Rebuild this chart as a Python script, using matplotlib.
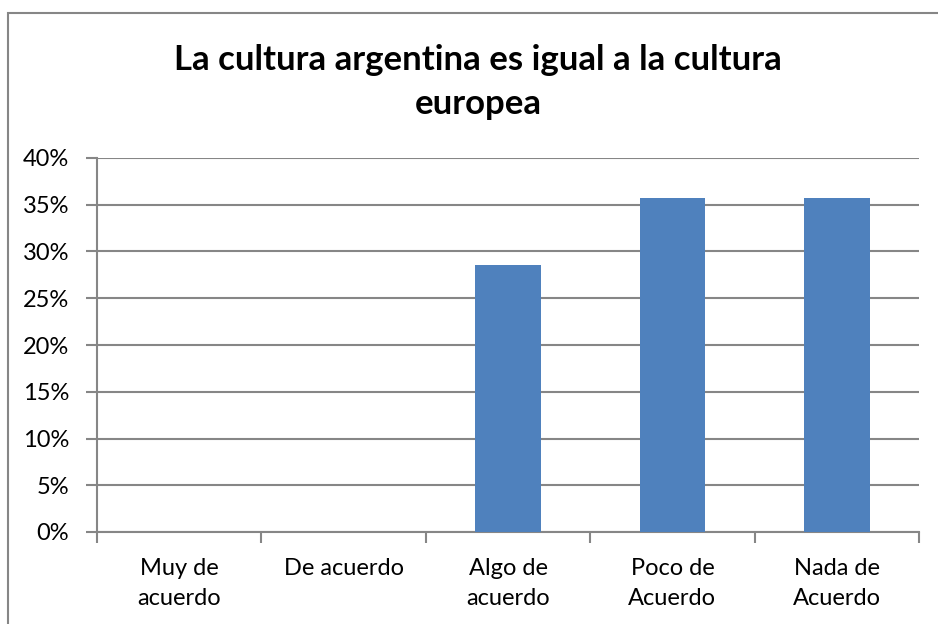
import matplotlib
matplotlib.use("Agg")
import matplotlib.pyplot as plt
from matplotlib.patches import Rectangle
from matplotlib.ticker import FixedLocator, MultipleLocator, FuncFormatter

categories = ["Muy de\nacuerdo", "De acuerdo", "Algo de\nacuerdo", "Poco de\nAcuerdo", "Nada de\nAcuerdo"]
values = [0.0, 0.0, 4 / 14, 5 / 14, 5 / 14]
title = "La cultura argentina es igual a la cultura\neuropea"

plt.rcParams["font.family"] = ["Lato", "DejaVu Sans"]

W, H = 938, 624
fig = plt.figure(figsize=(W / 100, H / 100), dpi=100)
fig.patch.set_facecolor("white")

# chart-area frame (left and top edges visible)
fig.add_artist(Rectangle((8 / W, -0.1), 1.2, 1.1 - 13 / H, transform=fig.transFigure,
                         fill=False, edgecolor="#868686", linewidth=1.5))

left, right, top, bottom = 97, 919, 158, 532
ax = fig.add_axes([left / W, 1 - bottom / H, (right - left) / W, (bottom - top) / H])

grid_c = "#868686"
x = list(range(len(categories)))
ax.bar(x, values, width=0.4, color="#4F81BD", zorder=3)

ax.set_xlim(-0.5, len(categories) - 0.5)
ax.set_ylim(0, 0.40)
ax.yaxis.set_major_locator(MultipleLocator(0.05))
ax.yaxis.set_major_formatter(FuncFormatter(lambda v, p: f"{v * 100:.0f}%"))
ax.yaxis.grid(True, color=grid_c, linewidth=1.5, zorder=0)
ax.set_axisbelow(True)

ax.xaxis.set_major_locator(FixedLocator([i - 0.5 for i in range(len(categories) + 1)]))
ax.xaxis.set_major_formatter(FuncFormatter(lambda v, p: ""))
ax.xaxis.set_minor_locator(FixedLocator(x))
ax.set_xticklabels(categories, minor=True)
ax.tick_params(axis="x", which="minor", length=0, labelsize=17, pad=19)
ax.tick_params(axis="x", which="major", length=8, width=1.5, color=grid_c)
ax.tick_params(axis="y", length=8, width=1.5, color=grid_c, labelsize=17, pad=12)
for lbl in ax.get_xticklabels(minor=True):
    lbl.set_linespacing(1.5)

for s in ["top", "right"]:
    ax.spines[s].set_visible(False)
for s in ["left", "bottom"]:
    ax.spines[s].set_color(grid_c)
    ax.spines[s].set_linewidth(1.5)

fig.text(478 / W, 1 - 82 / H, title, ha="center", va="center", fontsize=25,
         fontweight="bold", linespacing=1.45)

fig.savefig("out.png", dpi=100, facecolor="white")
